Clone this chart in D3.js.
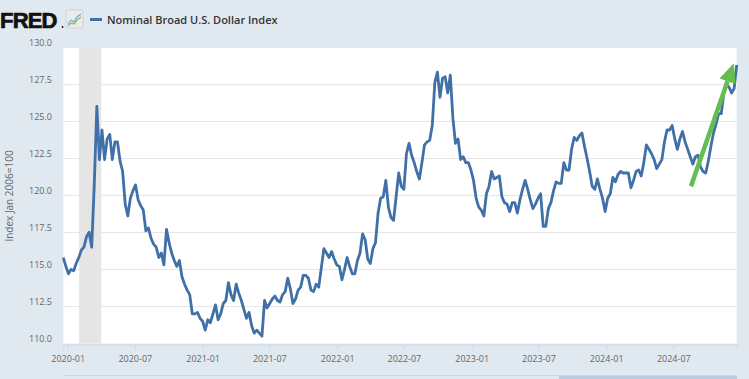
<!DOCTYPE html>
<html>
<head>
<meta charset="utf-8">
<script src="https://cdn.jsdelivr.net/npm/d3@7"></script>
<style>
  body { margin: 0; background: #e1e9f0; }
  svg { display: block; font-family: 'Open Sans', sans-serif; }
</style>
</head>
<body>
<script>
// weekly readings (Fridays), starting 2019-12-20
const startDate = '2019-12-20';
const usd2020 = [115.8, 115.2, 114.7, 115.0, 114.9, 115.4, 115.8, 116.3, 116.5, 117.2,
  117.5, 116.5, 120.7, 126.0, 122.4, 124.4, 122.4, 123.8, 124.1, 122.4,
  123.6, 123.6, 122.3, 121.6, 119.4, 118.6, 119.8, 120.3, 120.7, 119.7,
  119.3, 119.0, 117.6, 117.8, 117.1, 116.7, 116.5, 115.8, 116.1, 115.3,
  117.7, 116.8, 116.1, 115.6, 115.2, 115.6, 114.5, 114.0, 113.6, 113.3,
  112.0, 112.0, 112.1, 111.7];
const usd2021 = [111.5, 110.9, 111.6, 111.4, 112.0, 112.6, 111.6, 112.0, 112.7, 112.9,
  114.1, 113.3, 112.9, 114.0, 113.4, 112.9, 112.3, 111.7, 112.1, 111.2,
  110.7, 110.9, 110.7, 110.5, 112.9, 112.4, 112.7, 113.0, 113.2, 112.9,
  112.8, 113.3, 113.5, 114.4, 113.7, 112.7, 113.0, 113.6, 113.8, 114.6,
  114.6, 114.4, 113.6, 113.5, 114.0, 113.8, 115.1, 116.4, 116.1, 115.8,
  116.2, 115.7];
const usd2022 = [115.3, 115.2, 114.3, 115.0, 115.8, 115.2, 114.7, 114.7, 115.6, 116.1,
  117.4, 117.0, 115.7, 115.4, 116.4, 116.8, 118.8, 119.8, 119.9, 121.0,
  119.2, 118.5, 118.3, 119.9, 121.5, 120.6, 120.4, 122.8, 123.5, 122.7,
  122.2, 121.6, 121.1, 122.2, 123.4, 123.6, 123.7, 124.7, 127.6, 128.3,
  126.6, 127.9, 128.0, 126.9, 128.1, 125.2, 123.5, 123.8, 122.4, 122.6,
  122.2, 122.2];
const usd2023 = [121.7, 121.0, 119.8, 119.2, 119.0, 118.6, 120.1, 120.6, 121.6, 121.1,
  121.2, 121.3, 119.9, 119.5, 119.4, 118.9, 119.5, 119.5, 118.8, 119.7,
  120.4, 121.0, 120.4, 119.7, 119.1, 119.4, 119.8, 120.1, 117.9, 117.9,
  119.1, 119.5, 120.3, 120.9, 120.8, 120.8, 122.2, 121.7, 121.7, 123.1,
  123.9, 123.7, 124.0, 124.2, 123.3, 122.5, 121.6, 120.6, 120.4, 121.1,
  120.4, 119.8];
const usd2024 = [118.9, 119.8, 120.1, 121.2, 120.9, 121.4, 121.6, 121.5, 121.5, 121.5,
  120.5, 121.0, 121.6, 121.7, 121.3, 122.2, 123.4, 123.1, 122.8, 122.4,
  121.8, 122.1, 122.4, 123.6, 124.4, 124.4, 124.7, 123.8, 123.1, 123.8,
  124.3, 123.6, 123.1, 122.6, 122.1, 122.6, 122.7, 121.9, 121.6, 121.5,
  122.3, 123.3, 124.2, 124.8, 125.5, 125.5, 126.9, 127.4, 127.3, 126.9,
  127.2, 128.8];

const yTicks = [110, 112.5, 115, 117.5, 120, 122.5, 125, 127.5, 130];
const recession = ['2020-02-01', '2020-04-01'];
// hand-drawn arrow: tail and tip as [date, index]
const arrowPts = [['2024-08-18', 120.6], ['2024-12-12', 128.9]];

const seriesName = 'Nominal Broad U.S. Dollar Index';
const yTitle = 'Index Jan 2006=100';

const W = 749;
const H = 379;
const parse = d3.utcParse('%Y-%m-%d');
const start = parse(startDate);

const values = [...usd2020, ...usd2021, ...usd2022, ...usd2023, ...usd2024];
const data = values.map((v, i) => ({ date: d3.utcDay.offset(start, i * 7), value: v }));

const svg = d3.select('body')
  .append('svg')
  .attr('width', W)
  .attr('height', H);

const xScale = d3.scaleUtc()
  .domain(d3.extent(data, (d) => d.date))
  .range([63.3, 736.7]);

const yScale = d3.scaleLinear()
  .domain([110, 130])
  .range([343.5, 47]);

// plot background
svg.append('rect')
  .attr('x', xScale.range()[0])
  .attr('y', yScale(130))
  .attr('width', xScale.range()[1] - xScale.range()[0])
  .attr('height', yScale(110) - yScale(130))
  .attr('fill', '#fff');

// recession band
svg.append('rect')
  .attr('x', xScale(parse(recession[0])))
  .attr('y', yScale(130))
  .attr('width', xScale(parse(recession[1])) - xScale(parse(recession[0])))
  .attr('height', yScale(110) - yScale(130))
  .attr('fill', '#e5e5e5');

// grid
svg.append('g')
  .selectAll('line')
  .data(yTicks.slice(1))
  .enter().append('line')
  .attr('x1', xScale.range()[0])
  .attr('x2', xScale.range()[1])
  .attr('y1', (d) => Math.round(yScale(d)) + 0.5)
  .attr('y2', (d) => Math.round(yScale(d)) + 0.5)
  .attr('stroke', '#e6e6e6');

// y labels
svg.append('g')
  .selectAll('text')
  .data(yTicks)
  .enter().append('text')
  .attr('x', 52)
  .attr('y', (d) => yScale(d) - 1.5)
  .attr('text-anchor', 'end')
  .attr('fill', '#666')
  .style('font-size', '9px')
  .text((d) => d3.format('.1f')(d));

// x axis
const xAxis = d3.axisBottom(xScale)
  .ticks(d3.utcMonth.every(6))
  .tickFormat(d3.utcFormat('%Y-%m'))
  .tickSize(5)
  .tickPadding(6);

const gx = svg.append('g')
  .attr('transform', `translate(0,${Math.round(yScale(110)) + 0.5})`)
  .call(xAxis);
gx.select('.domain').attr('stroke', '#ccd6eb');
gx.selectAll('.tick line').attr('stroke', '#ccd6eb');
gx.selectAll('.tick text')
  .attr('fill', '#666')
  .style('font-size', '9px')
  .style('font-family', "'Open Sans', sans-serif");

// series line
const line = d3.line()
  .x((d) => xScale(d.date))
  .y((d) => yScale(d.value));

svg.append('path')
  .datum(data)
  .attr('d', line)
  .attr('fill', 'none')
  .attr('stroke', '#4070a8')
  .attr('stroke-width', 2.8)
  .attr('stroke-linejoin', 'round');

// y title
svg.append('text')
  .attr('transform', 'translate(13,196) rotate(-90)')
  .attr('text-anchor', 'middle')
  .attr('fill', '#666')
  .style('font-size', '10px')
  .text(yTitle);

// arrow annotation
const ax0 = xScale(parse(arrowPts[0][0]));
const ay0 = yScale(arrowPts[0][1]);
const ax1 = xScale(parse(arrowPts[1][0]));
const ay1 = yScale(arrowPts[1][1]);
const ang = Math.atan2(ay1 - ay0, ax1 - ax0);
const headLen = 19;
const headW = 8.5;
const bx = ax1 - headLen * Math.cos(ang);
const by = ay1 - headLen * Math.sin(ang);
svg.append('line')
  .attr('x1', ax0).attr('y1', ay0)
  .attr('x2', bx).attr('y2', by)
  .attr('stroke', '#63bd4f')
  .attr('stroke-width', 4.5);
svg.append('path')
  .attr('d', `M${ax1},${ay1}L${bx + headW * Math.sin(ang)},${by - headW * Math.cos(ang)}L${bx - headW * Math.sin(ang)},${by + headW * Math.cos(ang)}Z`)
  .attr('fill', '#63bd4f');

// navigator strip at the bottom
svg.append('line')
  .attr('x1', 63).attr('x2', 737)
  .attr('y1', 375.5).attr('y2', 375.5)
  .attr('stroke', '#cdd6e0');
svg.append('rect')
  .attr('x', 559).attr('y', 376)
  .attr('width', 178).attr('height', 3)
  .attr('fill', '#bccbe3');

// header: logo + legend
svg.append('text')
  .attr('x', 0)
  .attr('y', 28)
  .attr('fill', '#111')
  .attr('stroke', '#111')
  .attr('stroke-width', 0.7)
  .style('font-family', "'Liberation Sans', Arial, sans-serif")
  .style('font-weight', 'bold')
  .style('font-size', '22px')
  .style('letter-spacing', '-0.8px')
  .text('FRED');
svg.append('circle').attr('cx', 62.5).attr('cy', 27).attr('r', 0.9).attr('fill', '#111');

const logo = svg.append('g').attr('transform', 'translate(66,10)');
logo.append('rect')
  .attr('width', 17).attr('height', 18).attr('rx', 1.5)
  .attr('fill', '#e9ebec').attr('stroke', '#cfd3d6');
logo.append('polyline')
  .attr('points', '2,14 5,10 8,12 11,7 15,4')
  .attr('fill', 'none').attr('stroke', '#7aa6d6').attr('stroke-width', 1.2);
logo.append('polyline')
  .attr('points', '2,16 5,13 8,14 11,10 15,7')
  .attr('fill', 'none').attr('stroke', '#8cc25a').attr('stroke-width', 1.4);

svg.append('line')
  .attr('x1', 90).attr('x2', 102)
  .attr('y1', 19.5).attr('y2', 19.5)
  .attr('stroke', '#4070a8')
  .attr('stroke-width', 3);
svg.append('text')
  .attr('x', 107)
  .attr('y', 24)
  .attr('fill', '#333')
  .style('font-size', '11px')
  .style('font-weight', 600)
  .text(seriesName);
</script>
</body>
</html>
